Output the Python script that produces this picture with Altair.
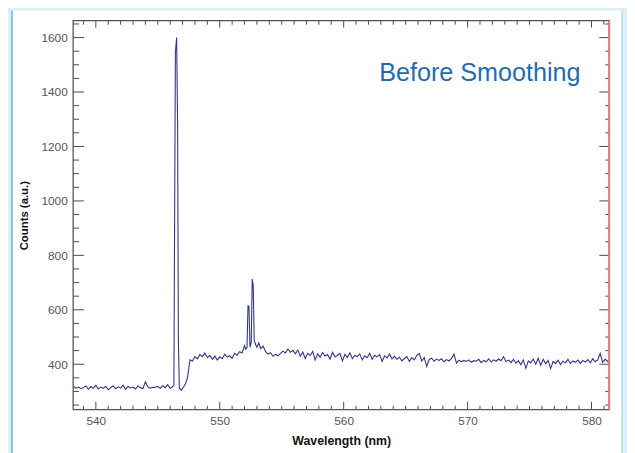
import altair as alt
import pandas as pd

# ---------------- data ----------------
wavelength = [
    538.2, 538.4, 538.6, 538.8,
    539.0, 539.2, 539.4, 539.6, 539.8,
    540.0, 540.2, 540.4, 540.6, 540.8,
    541.0, 541.2, 541.4, 541.6, 541.8,
    542.0, 542.2, 542.4, 542.6, 542.8,
    543.0, 543.2, 543.4, 543.6, 543.8,
    544.0, 544.2, 544.4, 544.6, 544.8,
    545.0, 545.2, 545.4, 545.6, 545.8,
    546.0, 546.2, 546.3, 546.34, 546.42, 546.52, 546.6, 546.66, 546.74, 546.9,
    547.1, 547.25, 547.4, 547.5, 547.6, 547.8,
    548.0, 548.2, 548.4, 548.6, 548.8,
    549.0, 549.2, 549.4, 549.6, 549.8,
    550.0, 550.2, 550.4, 550.6, 550.8,
    551.0, 551.2, 551.4, 551.6, 551.8,
    552.0, 552.1, 552.2, 552.28, 552.36, 552.44, 552.54, 552.62, 552.7, 552.78, 552.86,
    553.0, 553.15, 553.3, 553.5, 553.7, 553.9,
    554.1, 554.3, 554.5, 554.7, 554.9,
    555.1, 555.3, 555.5, 555.7, 555.9,
    556.1, 556.3, 556.5, 556.7, 556.9,
    557.1, 557.3, 557.5, 557.7, 557.9,
    558.1, 558.3, 558.5, 558.7, 558.9,
    559.1, 559.3, 559.5, 559.7, 559.9,
    560.1, 560.3, 560.5, 560.7, 560.9,
    561.1, 561.3, 561.5, 561.7, 561.9,
    562.1, 562.3, 562.5, 562.7, 562.9,
    563.1, 563.3, 563.5, 563.7, 563.9,
    564.1, 564.3, 564.5, 564.7, 564.9,
    565.1, 565.3, 565.5, 565.7, 565.9,
    566.1, 566.3, 566.5, 566.7, 566.9,
    567.1, 567.3, 567.5, 567.7, 567.9,
    568.1, 568.3, 568.5, 568.7, 568.9,
    569.1, 569.3, 569.5, 569.7, 569.9,
    570.1, 570.3, 570.5, 570.7, 570.9,
    571.1, 571.3, 571.5, 571.7, 571.9,
    572.1, 572.3, 572.5, 572.7, 572.9,
    573.1, 573.3, 573.5, 573.7, 573.9,
    574.1, 574.3, 574.5, 574.7, 574.9,
    575.1, 575.3, 575.5, 575.7, 575.9,
    576.1, 576.3, 576.5, 576.7, 576.9,
    577.1, 577.3, 577.5, 577.7, 577.9,
    578.1, 578.3, 578.5, 578.7, 578.9,
    579.1, 579.3, 579.5, 579.7, 579.9,
    580.1, 580.3, 580.5, 580.7, 580.9,
    581.1, 581.3, 581.4,
]
counts = [
    318, 312, 316, 310,
    314, 320, 308, 318, 312,
    322, 309, 316, 311, 319,
    306, 314, 321, 310, 317,
    312, 323, 308, 318, 313,
    316, 309, 320, 314, 311,
    335, 317, 312, 315, 316,
    318, 312, 321, 314, 325,
    311, 318, 322, 765, 1545, 1600, 1275, 495, 312, 305,
    318, 330, 352, 385, 416, 412,
    428, 420, 436, 428, 441,
    424, 433, 418, 430, 415,
    427, 420, 437, 426, 431,
    422, 440, 433, 446, 441,
    468, 455, 462, 617, 610, 462, 480, 713, 690, 488, 476,
    462, 478, 458, 466, 446, 437,
    442, 429, 436, 431, 440,
    448, 441, 456, 444, 451,
    438, 452, 429, 445, 421,
    440, 432, 447, 415, 438,
    426, 443, 430, 436, 419,
    444, 427, 433, 440, 412,
    436, 425, 442, 420, 432,
    428, 438, 416, 431, 424,
    440, 418, 433, 427, 436,
    410, 431, 423, 437, 420,
    429, 418, 426, 412, 421,
    428, 410, 424, 416, 433,
    440, 412, 425, 392, 418,
    422, 411, 419, 414, 420,
    409, 417, 412, 421, 437,
    404, 415, 409, 414, 410,
    416, 407, 413, 411, 418,
    406, 414, 409, 420, 408,
    416, 411, 419, 413, 428,
    410, 415, 406, 418, 404,
    413, 398, 416, 385, 412,
    405, 419, 400, 422, 396,
    418, 402, 414, 384, 410,
    403, 415, 398, 411, 405,
    418, 402, 412, 407, 415,
    403, 414, 408, 417, 405,
    420, 409, 416, 440, 407,
    418, 411, 405,
]

x_domain = [538.17, 581.43]
y_domain = [233, 1662]
x_major_ticks = [540, 550, 560, 570, 580]
x_minor_ticks = [v for v in range(539, 582) if v % 10 != 0]
y_major_ticks = [400, 600, 800, 1000, 1200, 1400, 1600]
y_minor_ticks = [v for v in range(250, 1700, 50) if v % 200 != 0]

annotation = ["Before Smoothing"]
x_title = "Wavelength (nm)"
y_title = "Counts (a.u.)"

# ---------------- layout / style ----------------
W, H = 543, 394
LINE_COLOR = "#32348f"
TICK_COLOR = "#4a4a4a"
FONT = "Liberation Sans"

df = pd.DataFrame({"wl": wavelength, "counts": counts})
xs = alt.Scale(domain=x_domain, nice=False, zero=False)
ys = alt.Scale(domain=y_domain, nice=False, zero=False)
one = pd.DataFrame({"k": [0]})

x_axis = alt.Axis(
    values=x_major_ticks, format="d", ticks=False, domain=False, grid=False,
    labelPadding=6, labelFontSize=12, labelColor="#555555", labelFont=FONT,
    labelFlush=False, labelOverlap=False, zindex=2,
    title=x_title, titleFont=FONT, titleFontSize=12.5, titleFontWeight="bold",
    titleColor="#111111", titlePadding=8,
)
y_axis = alt.Axis(
    values=y_major_ticks, format="d", ticks=False, domain=False, grid=False,
    labelPadding=6, labelFontSize=12, labelColor="#555555", labelFont=FONT,
    labelFlush=False, labelOverlap=False, zindex=2,
    title=y_title, titleFont=FONT, titleFontSize=11.5, titleFontWeight="bold",
    titleColor="#111111", titlePadding=12,
)

panel = alt.Chart(one).mark_rect(fill="white").encode(
    x=alt.value(-62), x2=alt.value(556), y=alt.value(-10), y2=alt.value(H + 60)
)
left_border = alt.Chart(one).mark_rule(color="#86c3e6", strokeWidth=2).encode(
    x=alt.value(-62), y=alt.value(-10), y2=alt.value(H + 60)
)
right_border = alt.Chart(one).mark_rule(color="#b5dcef", strokeWidth=1.5).encode(
    x=alt.value(556), y=alt.value(-10), y2=alt.value(H + 60)
)

line = alt.Chart(df).mark_line(color=LINE_COLOR, strokeWidth=1.1, clip=True).encode(
    x=alt.X("wl:Q", scale=xs, axis=x_axis),
    y=alt.Y("counts:Q", scale=ys, axis=y_axis),
)

def xticks(vals, y0, y1):
    return alt.Chart(pd.DataFrame({"v": vals})).mark_rule(color=TICK_COLOR, strokeWidth=1).encode(
        x=alt.X("v:Q", scale=xs, axis=x_axis), y=alt.value(y0), y2=alt.value(y1)
    )

def yticks(vals, x0, x1):
    return alt.Chart(pd.DataFrame({"v": vals})).mark_rule(color=TICK_COLOR, strokeWidth=1).encode(
        y=alt.Y("v:Q", scale=ys, axis=y_axis), x=alt.value(x0), x2=alt.value(x1)
    )

ticks = [
    xticks(x_major_ticks, H, H - 8), xticks(x_minor_ticks, H, H - 4),
    xticks(x_major_ticks, 0, 7), xticks(x_minor_ticks, 0, 4),
    yticks(y_major_ticks, 0, 11), yticks(y_minor_ticks, 0, 6),
    yticks(y_major_ticks, W, W - 10), yticks(y_minor_ticks, W, W - 4),
]

frame = alt.Chart(one).mark_rect(fillOpacity=0, stroke="#555555", strokeWidth=1.3).encode(
    x=alt.value(0), x2=alt.value(W), y=alt.value(0), y2=alt.value(H)
)
red_edge = alt.Chart(one).mark_rule(color="#e07f7f", strokeWidth=2).encode(
    x=alt.value(W), y=alt.value(0), y2=alt.value(H)
)

label = alt.Chart(pd.DataFrame({"t": annotation})).mark_text(
    align="right", baseline="alphabetic", fontSize=25.5, font=FONT, color="#1f6cb3"
).encode(text="t:N", x=alt.value(514), y=alt.value(61))

chart = alt.layer(
    panel, left_border, right_border, line, *ticks, frame, red_edge, label
).properties(
    width=W, height=H,
    autosize=alt.AutoSizeParams(type="none"),
    padding={"left": 66, "top": 10, "right": 18, "bottom": 41},
    background="#ddeef8",
).configure_view(stroke=None)

chart.save("out.html", embed_options={"renderer": "svg", "actions": False})
